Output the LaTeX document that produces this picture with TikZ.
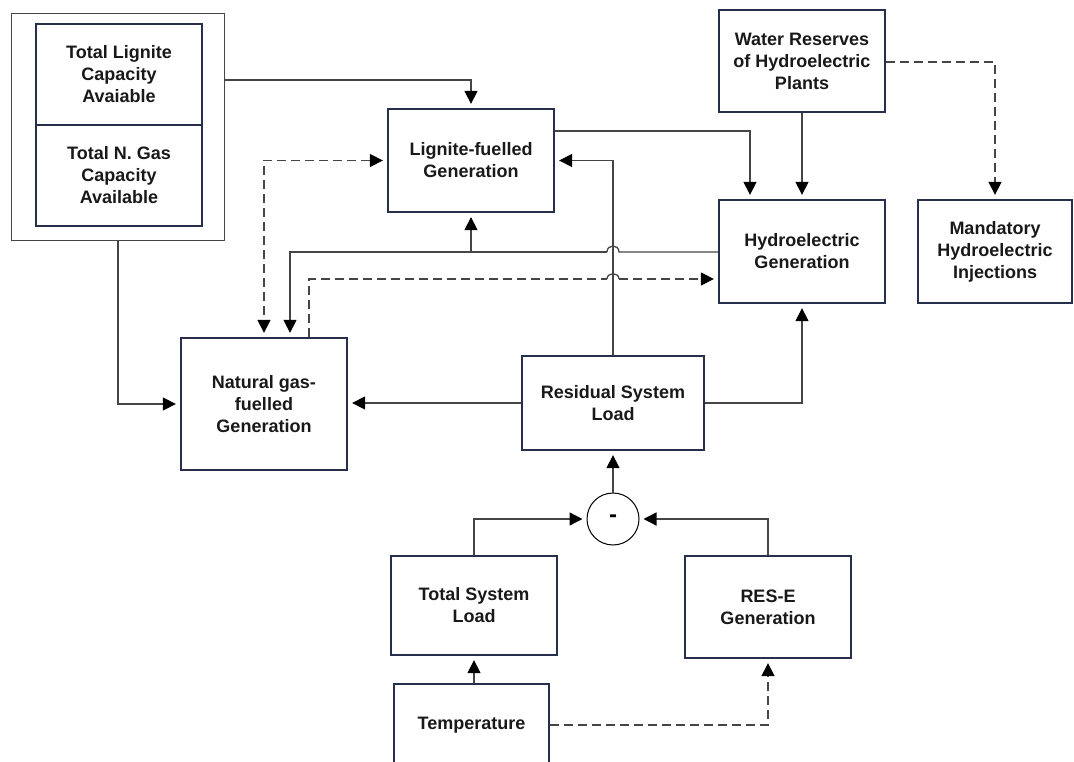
\documentclass[tikz,border=0pt]{standalone}
\usepackage{fontspec}
\setmainfont{Liberation Sans}
\usetikzlibrary{arrows.meta}
\definecolor{navy}{HTML}{26304D}
\definecolor{lgray}{HTML}{454545}
\begin{document}
\begin{tikzpicture}[x=1pt,y=-1pt,
  box/.style={draw=navy, line width=2.3pt, fill=white, align=center, inner sep=0pt,
     font=\fontsize{18}{22}\selectfont\bfseries, text=black!90},
  conn/.style={draw=lgray, line width=1.3pt},
  tip/.style={Triangle[length=13pt,width=13pt,color=black]},
  arr/.style={conn, -{Triangle[length=13pt,width=13pt,color=black]}, shorten >=4pt},
  darr/.style={arr, dashed, dash pattern=on 9pt off 5pt},
  bidarr/.style={darr, {Triangle[length=13pt,width=13pt,color=black]}-{Triangle[length=13pt,width=13pt,color=black]}, shorten <=4pt}]
\useasboundingbox (0,0) rectangle (1074,762);
% outer capacity box
\node[draw=lgray, line width=0.9pt, minimum width=213pt, minimum height=227pt, inner sep=0pt] (outer) at (117.5,126.5) {};
\node[box, minimum width=166pt, minimum height=101pt] (capL) at (119,74.5) {Total Lignite\\Capacity\\Avaiable};
\node[box, minimum width=166pt, minimum height=101pt] (capG) at (119,175.5) {Total N. Gas\\Capacity\\Available};
% main boxes
\node[box, minimum width=166pt, minimum height=103pt] (lig) at (471,160.5) {Lignite-fuelled\\Generation};
\node[box, minimum width=166pt, minimum height=102pt] (water) at (802,61) {Water Reserves\\of Hydroelectric\\Plants};
\node[box, minimum width=166pt, minimum height=103pt] (hydro) at (802,251.5) {Hydroelectric\\Generation};
\node[box, minimum width=154pt, minimum height=103pt] (mand) at (995,251.5) {Mandatory\\Hydroelectric\\Injections};
\node[box, minimum width=166pt, minimum height=132pt] (gas) at (264,404) {Natural gas-\\fuelled\\Generation};
\node[box, minimum width=182pt, minimum height=94pt] (res) at (613,403) {Residual System\\Load};
\node[draw=black, line width=1pt, circle, minimum size=52pt, inner sep=0pt, font=\fontsize{24}{24}\selectfont\bfseries] (circ) at (613,519) {-};
\node[box, minimum width=166pt, minimum height=99pt] (tot) at (474,605.5) {Total System\\Load};
\node[box, minimum width=166pt, minimum height=102pt] (rese) at (768,607) {RES-E\\Generation};
\node[box, minimum width=155pt, minimum height=82pt] (temp) at (471.5,725) {Temperature};
% connectors
\draw[arr] (outer.east |- 0,80) -| (lig.north);
\draw[arr] (outer.south -| 118,0) |- (gas.west);
\draw[arr] (res.west) -- (gas.east |- res.west);
\draw[arr] (res.east) -| (hydro.south);
\draw[arr] (res.north) |- (lig.east);
\draw[arr] (lig.east |- 0,131) -| (hydro.north -| 750,0);
\draw[arr] (water.south) -- (hydro.north);
\draw[darr] (water.east |- 0,62) -| (mand.north);
\draw[bidarr] (lig.west) -| (gas.north -| 264,0);
% hydro to gas with hop over the residual line
\coordinate (hopA) at (619,252);
\coordinate (hopB) at (607,252);
\draw[conn] (hydro.west |- 0,252) -- (hopA) .. controls (619,244) and (607,244) .. (hopB);
\draw[arr] (hopB) -| (gas.north -| 290,0);
\draw[arr] (lig.south |- 0,252) -- (lig.south);
% dashed gas to hydro with small hop
\coordinate (dhopA) at (607,279);
\coordinate (dhopB) at (619,279);
\draw[conn, dashed, dash pattern=on 9pt off 5pt] (gas.north -| 309,0) |- (dhopA);
\draw[conn] (dhopA) .. controls (607,272) and (619,272) .. (dhopB);
\draw[darr] (dhopB) -- (hydro.west |- 0,279);
% lower part
\draw[arr] (circ.north) -- (res.south);
\draw[arr] (tot.north) |- (circ.west);
\draw[arr] (rese.north) |- (circ.east);
\draw[arr] (temp.north -| tot.south) -- (tot.south);
\draw[darr] (temp.east) -| (rese.south);
\end{tikzpicture}
\end{document}
